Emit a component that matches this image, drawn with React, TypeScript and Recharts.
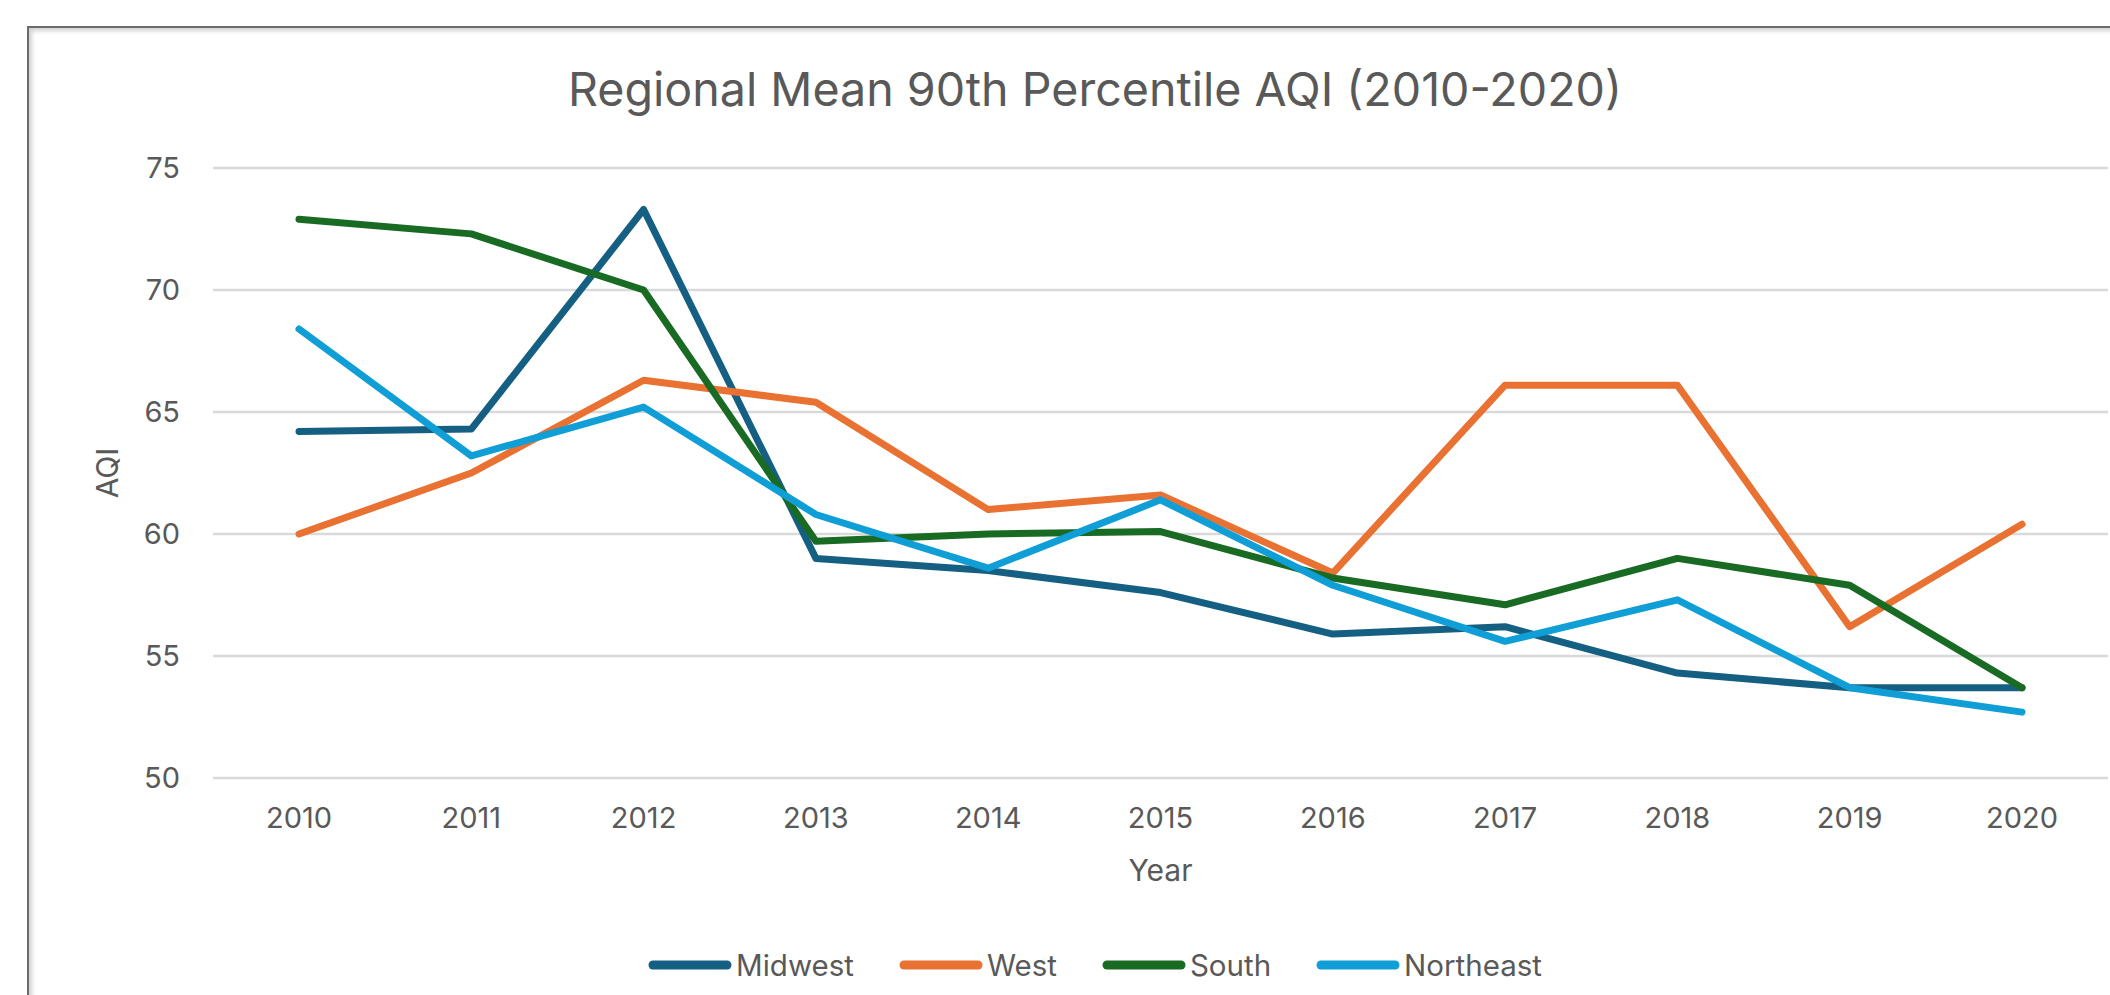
import { CartesianGrid, Legend, Line, LineChart, XAxis, YAxis } from "recharts";

const years = ["2010", "2011", "2012", "2013", "2014", "2015", "2016", "2017", "2018", "2019", "2020"];
const midwest = [64.2, 64.3, 73.3, 59.0, 58.5, 57.6, 55.9, 56.2, 54.3, 53.7, 53.7];
const west = [60.0, 62.5, 66.3, 65.4, 61.0, 61.6, 58.4, 66.1, 66.1, 56.2, 60.4];
const south = [72.9, 72.3, 70.0, 59.7, 60.0, 60.1, 58.2, 57.1, 59.0, 57.9, 53.7];
const northeast = [68.4, 63.2, 65.2, 60.8, 58.6, 61.4, 57.9, 55.6, 57.3, 53.7, 52.7];
const yTicks = [50, 55, 60, 65, 70, 75];

const series = [
  { name: "Midwest", values: midwest, color: "#156082" },
  { name: "West", values: west, color: "#E97132" },
  { name: "South", values: south, color: "#196B24" },
  { name: "Northeast", values: northeast, color: "#0F9ED5" },
];

const data = years.map((year, i) => {
  const row: Record<string, string | number> = { year };
  series.forEach((s) => (row[s.name] = s.values[i]));
  return row;
});

const textColor = "#595959";
const font = "Inter, 'Noto Sans', sans-serif";

function LegendRow({ payload }: any) {
  return (
    <div style={{ height: 40, display: "flex", justifyContent: "center", alignItems: "center", gap: 45 }}>
      {(payload || []).map((entry: any) => (
        <div key={entry.value} style={{ display: "flex", alignItems: "center" }}>
          <svg width={84} height={12}>
            <line x1={5} y1={6} x2={79} y2={6} stroke={entry.color} strokeWidth={9} strokeLinecap="round" />
          </svg>
          <span style={{ marginLeft: 4, fontSize: 29.5, color: textColor, fontFamily: font }}>{entry.value}</span>
        </div>
      ))}
    </div>
  );
}

export default function App() {
  return (
    <div
      style={{
        position: "absolute",
        left: 0,
        top: 0,
        width: 2110,
        height: 995,
        overflow: "hidden",
        background: "#fff",
        fontFamily: font,
      }}
    >
      {/* chart frame, cut off at the right and bottom like the screenshot */}
      <div
        style={{
          position: "absolute",
          left: 27,
          top: 26,
          width: 2400,
          height: 1200,
          borderLeft: "2px solid #6b6b6b",
          borderTop: "2px solid #6b6b6b",
          boxShadow: "inset 3px 3px 4px rgba(0,0,0,0.18)",
        }}
      />
      <div
        style={{
          position: "absolute",
          left: 0,
          top: 66,
          width: 2190,
          textAlign: "center",
          fontSize: 46.6,
          lineHeight: "47px",
          color: textColor,
        }}
      >
        Regional Mean 90th Percentile AQI (2010-2020)
      </div>
      <div style={{ position: "absolute", left: 0, top: 0 }}>
        <LineChart width={2190} height={995} data={data} margin={{ top: 168, right: 82, bottom: 10, left: 0 }}>
          <CartesianGrid horizontal vertical={false} stroke="#d9d9d9" strokeWidth={2.5} />
          <XAxis
            dataKey="year"
            padding={{ left: 86, right: 86 }}
            height={167}
            interval={0}
            axisLine={false}
            tickLine={false}
            tickSize={0}
            tickMargin={29}
            tick={{ fill: textColor, fontSize: 29, fontFamily: font }}
            label={{ value: "Year", position: "insideBottom", offset: 64, fill: textColor, fontSize: 30, fontFamily: font }}
          />
          <YAxis
            width={213}
            domain={[50, 75]}
            ticks={yTicks}
            interval={0}
            axisLine={false}
            tickLine={false}
            tickSize={0}
            tickMargin={33}
            tick={{ fill: textColor, fontSize: 29, fontFamily: font }}
            label={{
              content: ({ viewBox }: any) => {
                const cy = viewBox.y + viewBox.height / 2;
                return (
                  <text
                    x={107}
                    y={cy}
                    transform={`rotate(-90, 107, ${cy})`}
                    textAnchor="middle"
                    dominantBaseline="central"
                    fill={textColor}
                    fontSize={30}
                    fontFamily={font}
                  >
                    AQI
                  </text>
                );
              },
            }}
          />
          <Legend
            verticalAlign="bottom"
            content={<LegendRow />}
            itemSorter={(item: any) => series.findIndex((s) => s.name === item.value)}
            wrapperStyle={{ left: 0, bottom: 10, width: 2190 }}
          />
          {series.map((s) => (
            <Line
              key={s.name}
              type="linear"
              dataKey={s.name}
              name={s.name}
              stroke={s.color}
              strokeWidth={7}
              strokeLinecap="round"
              strokeLinejoin="round"
              dot={false}
              activeDot={false}
              isAnimationActive={false}
            />
          ))}
        </LineChart>
      </div>
    </div>
  );
}
